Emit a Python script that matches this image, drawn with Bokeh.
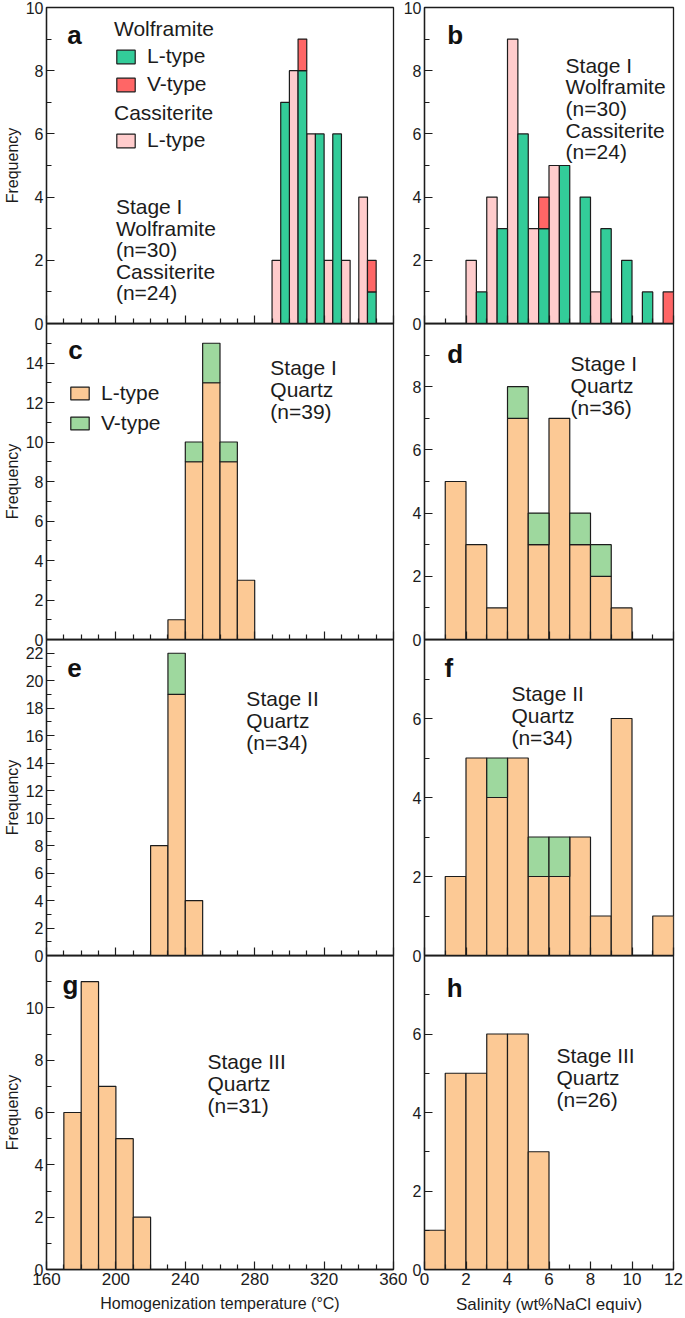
import numpy as np
from bokeh.plotting import figure
from bokeh.models import Range1d, FixedTicker, Legend, LegendItem, CustomLabelingPolicy
from bokeh.layouts import row, column
from bokeh.embed import file_html
from bokeh.resources import INLINE
from bokeh.core.properties import value

# ---------------- data ----------------
temp_ticks = [160, 200, 240, 280, 320, 360]
temp_minor = [170, 180, 190, 210, 220, 230, 250, 260, 270, 290, 300, 310, 330, 340, 350]
sal_ticks = [0, 2, 4, 6, 8, 10, 12]
sal_minor = [1, 3, 5, 7, 9, 11]

# (a) Stage I wolframite / cassiterite, homogenization temperature (10 degC bins)
a_bins = [290, 300, 310, 320, 330, 340]
a_cas_L = [2, 8, 6, 2, 2, 4]
a_wol_L = [7, 8, 6, 6, 0, 1]
a_wol_V = [0, 1, 0, 0, 0, 1]
# (b) Stage I wolframite / cassiterite, salinity (1 wt% bins)
b_bins = [2, 3, 4, 5, 6, 7, 8, 9, 10, 11]
b_cas_L = [2, 4, 9, 3, 5, 0, 1, 0, 0, 0]
b_wol_L = [1, 3, 6, 3, 5, 4, 3, 2, 1, 0]
b_wol_V = [0, 0, 0, 1, 0, 0, 0, 0, 0, 1]
# (c) Stage I quartz, temperature
c_bins = [230, 240, 250, 260, 270]
c_L = [1, 9, 13, 9, 3]
c_V = [0, 1, 2, 1, 0]
# (d) Stage I quartz, salinity
d_bins = [1, 2, 3, 4, 5, 6, 7, 8, 9]
d_L = [5, 3, 1, 7, 3, 7, 3, 2, 1]
d_V = [0, 0, 0, 1, 1, 0, 1, 1, 0]
# (e) Stage II quartz, temperature
e_bins = [220, 230, 240]
e_L = [8, 19, 4]
e_V = [0, 3, 0]
# (f) Stage II quartz, salinity
f_bins = [1, 2, 3, 4, 5, 6, 7, 8, 9, 10, 11]
f_L = [2, 5, 4, 5, 2, 2, 3, 1, 6, 0, 1]
f_V = [0, 0, 1, 0, 1, 1, 0, 0, 0, 0, 0]
# (g) Stage III quartz, temperature
g_bins = [170, 180, 190, 200, 210]
g_L = [6, 11, 7, 5, 2]
# (h) Stage III quartz, salinity
h_bins = [0, 1, 2, 3, 4, 5]
h_L = [1, 5, 5, 6, 6, 3]

# ---------------- style ----------------
SANS = "Liberation Sans"
C_WL = "#33CC99"
C_WV = "#FF6666"
C_CAS = "#FFCCCC"
C_QL = "#FCC995"
C_QV = "#9ED89E"
EDGE = "#1c1c1c"
INK = "#1c1c1c"

FW = [349, 249]          # frame widths (left / right column)
BL = [44, 31]            # left borders
BR = [14, 10]            # right borders
FRAME_H = 316
TOP = [7, 0, 0, 0]
BOT = [10, 10, 10, 45]

HIDE_LABELS = CustomLabelingPolicy(code="""
const all = [...indices]
for (const i of all) indices.unset(i)
return indices
""")


def make_fig(col, r, xr, ymax, yticks, yminor):
    p = figure(width=BL[col] + FW[col] + BR[col], height=TOP[r] + FRAME_H + BOT[r],
               x_range=Range1d(*xr), y_range=Range1d(0, ymax),
               output_backend="svg", toolbar_location=None, tools="",
               min_border_left=BL[col], min_border_right=BR[col],
               min_border_top=TOP[r], min_border_bottom=BOT[r])
    if col == 1:
        p.styles = {"margin-left": "-14px"}
    p.background_fill_color = None
    p.border_fill_color = None
    p.outline_line_color = INK
    p.outline_line_width = 1.3
    p.xgrid.visible = False
    p.ygrid.visible = False

    xa = p.xaxis[0]
    if col == 0:
        xa.ticker = FixedTicker(ticks=temp_ticks, minor_ticks=temp_minor)
    else:
        xa.ticker = FixedTicker(ticks=sal_ticks, minor_ticks=sal_minor)
    xa.major_tick_in, xa.major_tick_out = 8, 0
    xa.minor_tick_in, xa.minor_tick_out = 5, 0
    xa.axis_line_color = INK
    xa.axis_line_width = 1.3
    xa.major_tick_line_color = INK
    xa.minor_tick_line_color = INK
    xa.major_tick_line_width = 1.2
    xa.minor_tick_line_width = 1.2
    if r < 3:
        xa.major_label_text_font_size = "0px"
        xa.major_label_standoff = 0
        xa.major_label_policy = HIDE_LABELS
    else:
        xa.major_label_text_font = SANS
        xa.major_label_text_font_size = "17px"
        xa.major_label_text_color = INK
        xa.major_label_standoff = 3
        xa.axis_label = "Homogenization temperature (°C)" if col == 0 else "Salinity (wt%NaCl equiv)"
        xa.axis_label_text_font = SANS
        xa.axis_label_text_font_size = "16px" if col == 0 else "17px"
        xa.axis_label_text_font_style = "normal"
        xa.axis_label_text_color = INK
        xa.axis_label_standoff = 7

    ya = p.yaxis[0]
    ya.ticker = FixedTicker(ticks=yticks, minor_ticks=yminor)
    ya.major_tick_in, ya.major_tick_out = 8, 0
    ya.minor_tick_in, ya.minor_tick_out = 5, 0
    ya.axis_line_color = INK
    ya.axis_line_width = 1.3
    ya.major_tick_line_color = INK
    ya.minor_tick_line_color = INK
    ya.major_tick_line_width = 1.2
    ya.minor_tick_line_width = 1.2
    ya.major_label_text_font = SANS
    ya.major_label_text_font_size = "16px"
    ya.major_label_text_color = INK
    ya.major_label_standoff = 3
    if col == 0:
        ya.axis_label = "Frequency"
        ya.axis_label_text_font = SANS
        ya.axis_label_text_font_size = "16px"
        ya.axis_label_text_font_style = "normal"
        ya.axis_label_text_color = INK
        ya.axis_label_standoff = 2
    return p


def bars(p, starts, width, heights, color, base=None, offset=0.0, frac=1.0):
    s = np.asarray(starts, float)
    h = np.asarray(heights, float)
    b = np.zeros_like(h) if base is None else np.asarray(base, float)
    m = h > 0
    left = s[m] + offset * width
    return p.quad(left=left, right=left + frac * width, bottom=b[m], top=(b + h)[m],
                  fill_color=color, line_color=EDGE, line_width=1.2)


def note(p, x, y, lines, spacing=22):
    p.text(x=[x] * len(lines), y=[y] * len(lines), text=lines,
           y_offset=[i * spacing for i in range(len(lines))],
           text_font=value(SANS), text_font_size="21px", text_color=INK,
           text_align="left", text_baseline="alphabetic")


def letter(p, x, y, t):
    p.text(x=[x], y=[y], text=[t], text_font=value(SANS), text_font_size="26px",
           text_font_style="bold", text_color="#111111", text_align="left",
           text_baseline="alphabetic")


def style_legend(leg, gw, gh):
    leg.border_line_color = None
    leg.background_fill_alpha = 0
    leg.label_text_font = SANS
    leg.label_text_font_size = "21px"
    leg.label_text_color = INK
    leg.title_text_font = SANS
    leg.title_text_font_size = "21px"
    leg.title_text_font_style = "normal"
    leg.title_text_color = INK
    leg.glyph_width = gw
    leg.glyph_height = gh
    leg.label_standoff = 10
    leg.padding = 0
    leg.margin = 0
    leg.spacing = 4
    leg.title_standoff = 3
    leg.label_height = 20


TR = (160, 360)
SR = (0, 12)

# (a)
pa = make_fig(0, 0, TR, 10, [0, 2, 4, 6, 8, 10], [1, 3, 5, 7, 9])
r_cas = bars(pa, a_bins, 10, a_cas_L, C_CAS, frac=0.5)
r_wl = bars(pa, a_bins, 10, a_wol_L, C_WL, offset=0.5, frac=0.5)
r_wv = bars(pa, a_bins, 10, a_wol_V, C_WV, base=a_wol_L, offset=0.5, frac=0.5)
letter(pa, 172, 9.13, "a")
note(pa, 200, 3.69, ["Stage I", "Wolframite", "(n=30)", "Cassiterite", "(n=24)"], 21.5)
leg_w = Legend(items=[LegendItem(label="L-type", renderers=[r_wl]),
                      LegendItem(label="V-type", renderers=[r_wv])],
               title="Wolframite", location=(68, 227))
style_legend(leg_w, 23, 17)
pa.add_layout(leg_w)
leg_c = Legend(items=[LegendItem(label="L-type", renderers=[r_cas])],
               title="Cassiterite", location=(68, 171))
style_legend(leg_c, 23, 17)
pa.add_layout(leg_c)

# (b)
pb = make_fig(1, 0, SR, 10, [0, 2, 4, 6, 8, 10], [1, 3, 5, 7, 9])
bars(pb, b_bins, 1, b_cas_L, C_CAS, frac=0.5)
bars(pb, b_bins, 1, b_wol_L, C_WL, offset=0.5, frac=0.5)
bars(pb, b_bins, 1, b_wol_V, C_WV, base=b_wol_L, offset=0.5, frac=0.5)
letter(pb, 1.1, 9.13, "b")
note(pb, 6.8, 8.18, ["Stage I", "Wolframite", "(n=30)", "Cassiterite", "(n=24)"], 21.7)

# (c)
pc = make_fig(0, 1, TR, 16, [0, 2, 4, 6, 8, 10, 12, 14], [1, 3, 5, 7, 9, 11, 13, 15])
r_ql = bars(pc, c_bins, 10, c_L, C_QL)
r_qv = bars(pc, c_bins, 10, c_V, C_QV, base=c_L)
letter(pc, 172.6, 14.67, "c")
note(pc, 289, 13.75, ["Stage I", "Quartz", "(n=39)"], 21.7)
leg_q = Legend(items=[LegendItem(label="L-type", renderers=[r_ql]),
                      LegendItem(label="V-type", renderers=[r_qv])],
               location=(22, 204))
style_legend(leg_q, 23, 16)
leg_q.spacing = 6
pc.add_layout(leg_q)

# (d)
pd_ = make_fig(1, 1, SR, 10, [0, 2, 4, 6, 8], [1, 3, 5, 7, 9])
bars(pd_, d_bins, 1, d_L, C_QL)
bars(pd_, d_bins, 1, d_V, C_QV, base=d_L)
letter(pd_, 1.1, 9.03, "d")
note(pd_, 7.04, 8.75, ["Stage I", "Quartz", "(n=36)"], 22)

# (e)
pe = make_fig(0, 2, TR, 23, list(range(0, 23, 2)), list(range(1, 24, 2)))
bars(pe, e_bins, 10, e_L, C_QL)
bars(pe, e_bins, 10, e_V, C_QV, base=e_L)
letter(pe, 172, 20.96, "e")
note(pe, 275.2, 18.69, ["Stage II", "Quartz", "(n=34)"], 22)

# (f)
pf = make_fig(1, 2, SR, 8, [0, 2, 4, 6], [1, 3, 5, 7])
bars(pf, f_bins, 1, f_L, C_QL)
bars(pf, f_bins, 1, f_V, C_QV, base=f_L)
letter(pf, 0.96, 7.28, "f")
note(pf, 4.19, 6.63, ["Stage II", "Quartz", "(n=34)"], 22)

# (g)
pg = make_fig(0, 3, TR, 12, [0, 2, 4, 6, 8, 10], [1, 3, 5, 7, 9, 11])
bars(pg, g_bins, 10, g_L, C_QL)
letter(pg, 169.2, 10.86, "g")
note(pg, 252.8, 7.93, ["Stage III", "Quartz", "(n=31)"], 22)

# (h)
ph = make_fig(1, 3, SR, 8, [0, 2, 4, 6], [1, 3, 5, 7])
bars(ph, h_bins, 1, h_L, C_QL)
letter(ph, 1.07, 7.17, "h")
note(ph, 6.36, 5.44, ["Stage III", "Quartz", "(n=26)"], 22)

rows = []
for i, (l, r) in enumerate([(pa, pb), (pc, pd_), (pe, pf), (pg, ph)]):
    rr = row(l, r)
    if i > 0:
        rr.styles = {"margin-top": "-10px"}
    rows.append(rr)
layout = column(*rows)

open("out.html", "w").write(file_html(layout, INLINE))
